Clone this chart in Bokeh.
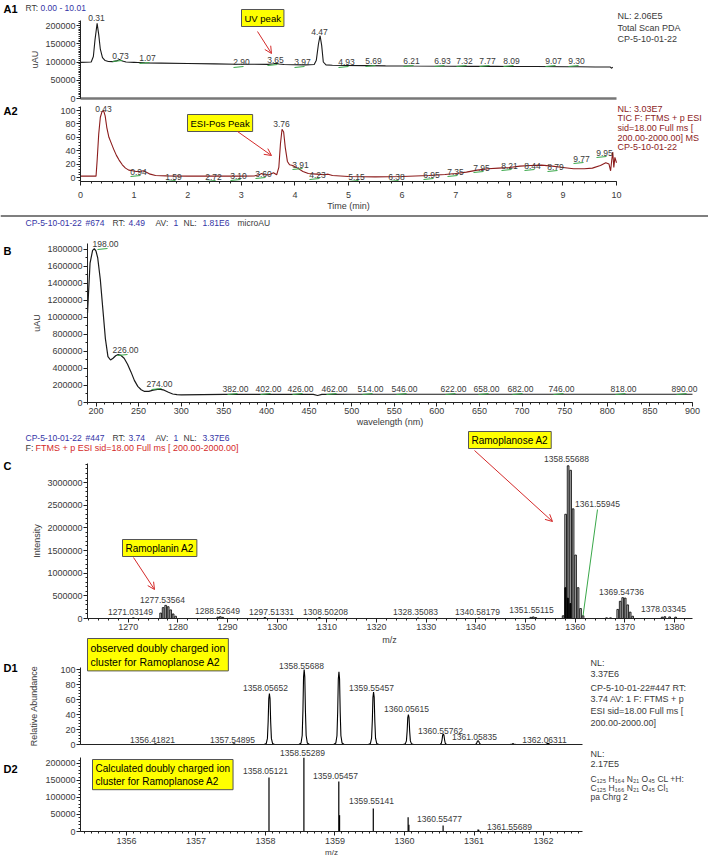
from bokeh.plotting import figure
from bokeh.layouts import column
from bokeh.models import (Range1d, Label, Arrow, OpenHead, SingleIntervalTicker,
                          FixedTicker, BasicTickFormatter)
from bokeh.embed import file_html
from bokeh.resources import INLINE

FONT = "Liberation Sans"
INK = "#222222"
GREY = "#3a3a3a"
BLUE = "#3434a6"
RED = "#d42a2a"
DARKRED = "#8c1c1c"
GREEN = "#3aa84a"
YELLOW = "#ffff00"

# ---------------------------------------------------------------- data
# A1: UV (PDA) chromatogram
a1_time = [0.00, 0.10, 0.20, 0.24, 0.27, 0.31, 0.34, 0.37, 0.41, 0.46,
           0.52, 0.60, 0.67, 0.73, 0.78, 0.85, 1.00, 1.07, 1.20, 1.50,
           2.00, 2.50, 2.90, 3.20, 3.50, 3.60, 3.65, 3.70, 3.80, 3.97,
           4.20, 4.36, 4.40, 4.44, 4.47, 4.50, 4.53, 4.58, 4.70, 4.93,
           5.30, 5.69, 6.21, 6.93, 7.32, 7.77, 8.09, 8.50, 9.07, 9.30,
           9.60, 9.88, 9.91, 9.93]
a1_uau = [99000, 99500, 100000, 115000, 160000, 206000, 175000, 135000, 112000, 104000,
          101500, 101000, 103000, 107000, 103000, 100000, 99000, 98500, 97500, 97000,
          96000, 95000, 94000, 94000, 93500, 95000, 96500, 94500, 93000, 92500,
          92000, 93000, 105000, 150000, 172000, 145000, 100000, 92000, 91000, 90500,
          90000, 89500, 89000, 88500, 88000, 88000, 87500, 87500, 87000, 87000,
          86500, 86500, 83000, 86000]
a1_labels = ["0.31", "0.73", "1.07", "2.90", "3.65", "3.97", "4.47", "4.93",
             "5.69", "6.21", "6.93", "7.32", "7.77", "8.09", "9.07", "9.30"]

# A2: ESI positive TIC (relative abundance)
a2_time = [0.00, 0.20, 0.29, 0.31, 0.34, 0.37, 0.40, 0.43, 0.46, 0.49,
           0.53, 0.57, 0.62, 0.67, 0.72, 0.78, 0.84, 0.90, 0.97, 1.04,
           1.10, 1.17, 1.23, 1.30, 1.40, 1.60, 2.00, 2.50, 3.00, 3.25,
           3.33, 3.38, 3.43, 3.52, 3.60, 3.66, 3.70, 3.73, 3.76, 3.79,
           3.82, 3.86, 3.90, 3.96, 4.05, 4.15, 4.25, 4.40, 4.55, 4.62,
           4.70, 5.00, 5.50, 6.00, 6.50, 6.80, 7.00, 7.20, 7.40, 7.60,
           7.80, 8.00, 8.20, 8.40, 8.60, 8.80, 9.00, 9.20, 9.40, 9.55,
           9.70, 9.80, 9.86, 9.89, 9.91, 9.93, 9.95, 9.97, 10.00]
a2_rel = [2, 2, 2, 25, 65, 90, 98, 100, 92, 75,
          60, 52, 42, 33, 26, 19, 14, 11, 10, 9,
          9, 10, 8, 5, 3, 2.5, 2, 2, 2, 2.5,
          4, 6, 4, 4, 7, 4, 15, 50, 72, 68,
          45, 24, 19, 18, 14, 9, 6, 5, 4, 5,
          3, 1.5, 1, 1.5, 3, 4.5, 6, 8, 11, 13,
          14, 15, 17, 18, 18.5, 17, 15, 13, 13, 14,
          18, 22, 20, 10, 25, 38, 15, 30, 22]
a2_labels = ["0.43", "0.94", "1.59", "2.72", "3.10", "3.60", "3.76", "3.91", "4.23",
             "5.15", "6.38", "6.95", "7.35", "7.95", "8.21", "8.44", "8.79", "9.77", "9.95"]

# B: UV spectrum at RT 4.49
b_nm = [190, 191, 193, 196, 198, 200, 202, 205, 208, 211,
        214, 217, 220, 223, 226, 229, 233, 237, 241, 245,
        249, 253, 257, 262, 267, 272, 276, 280, 285, 290,
        295, 300, 350, 400, 455, 460, 465, 500, 600, 700,
        800, 900]
b_uau = [1050000, 1250000, 1640000, 1790000, 1810000, 1780000, 1700000, 1450000, 1100000, 750000,
         540000, 500000, 520000, 550000, 565000, 555000, 520000, 450000, 360000, 260000,
         190000, 150000, 130000, 130000, 145000, 155000, 155000, 145000, 120000, 100000,
         92000, 90000, 95000, 96000, 95000, 82000, 96000, 97000, 97000, 97000,
         97000, 97000]
b_labels = ["198.00", "226.00", "274.00", "382.00", "402.00", "426.00", "462.00", "514.00",
            "546.00", "622.00", "658.00", "682.00", "746.00", "818.00", "890.00"]

# C: full MS spectrum at RT 3.74
c_mz = [1271.03, 1276.53, 1277.03, 1277.54, 1278.04, 1278.54, 1279.04, 1279.54,
        1288.03, 1288.53, 1289.03, 1297.51, 1308.50, 1328.35, 1340.58,
        1351.05, 1351.55, 1352.05, 1357.56, 1358.06, 1358.56, 1359.06, 1359.56,
        1360.06, 1360.56, 1361.06, 1361.56, 1366.30, 1367.10, 1368.55, 1369.05,
        1369.55, 1370.05, 1370.55, 1371.05, 1371.55, 1377.50, 1378.03, 1379.00, 1380.20]
c_int = [15000, 120000, 240000, 290000, 260000, 190000, 100000, 50000,
         30000, 40000, 25000, 20000, 20000, 10000, 10000,
         25000, 35000, 20000, 60000, 2300000, 3370000, 3270000, 2420000,
         1400000, 680000, 220000, 60000, 15000, 15000, 200000, 380000,
         460000, 450000, 300000, 140000, 50000, 30000, 40000, 35000, 30000]
c_inner_mz = [1358.00, 1358.50, 1359.00]
c_inner_int = [680000, 450000, 330000]
c_labels = ["1271.03149", "1277.53564", "1288.52649", "1297.51331", "1308.50208",
            "1328.35083", "1340.58179", "1351.55115", "1358.55688", "1361.55945",
            "1369.54736", "1378.03345"]

# D1: observed doubly charged cluster
d1_mz = [1356.418, 1357.549, 1358.057, 1358.557, 1359.057, 1359.555,
         1360.056, 1360.558, 1361.058, 1361.560, 1362.063]
d1_rel = [0.8, 0.8, 68, 100, 97, 70, 40, 14, 5, 1, 1.5]
d1_labels = ["1356.41821", "1357.54895", "1358.05652", "1358.55688", "1359.55457",
             "1360.05615", "1360.55762", "1361.05835", "1362.06311"]

# D2: calculated doubly charged cluster
d2_mz = [1358.051, 1358.553, 1359.055, 1359.551, 1360.052, 1360.555, 1361.057, 1361.557]
d2_int = [159000, 217000, 147000, 68000, 42000, 18000, 6000, 2000]
d2_minor_mz = [1359.066, 1360.063, 1361.068]
d2_minor_int = [48000, 20000, 5000]
d2_labels = ["1358.05121", "1358.55289", "1359.05457", "1359.55141", "1360.55477", "1361.55689"]

# ---------------------------------------------------------------- label placement (page pixels)
a1_label_px = [(96, 17), (120, 55), (147, 57), (241, 61), (275, 59), (302, 61), (319, 31), (346, 61),
               (373, 60), (411, 60), (442, 60), (464, 60), (487, 60), (511, 60), (553, 60), (576, 60)]
a2_label_px = [(103, 108), (138, 171), (173, 176), (213, 176), (238, 175), (263, 173), (281, 123),
               (300, 164), (317, 174), (356, 176), (396, 176), (431, 174), (455, 171), (481, 167),
               (509, 165), (532, 165), (555, 166), (581, 158), (604, 152)]
b_label_px = [(105, 243), (125, 349), (159, 383), (235, 388), (268, 388), (300, 388), (334, 388),
              (370, 388), (404, 388), (453, 388), (486, 388), (520, 388), (561, 388), (623, 388),
              (684, 388)]
c_label_px = [(130, 611), (162, 599), (217, 610), (271, 611), (325, 611), (415, 611), (477, 611),
              (531, 609), (566, 458), (597, 503), (621, 591), (663, 608)]
d1_label_px = [(152, 739), (232, 739), (265, 687), (301, 665), (371, 687), (406, 708), (440, 730),
               (474, 736), (544, 739)]
d2_label_px = [(265, 770), (302, 752), (335, 775), (371, 800), (439, 818), (509, 826)]


# ---------------------------------------------------------------- helpers
def X(g, px):
    return g["x0"] + (px - g["fl"]) * (g["x1"] - g["x0"]) / (g["fr"] - g["fl"])


def Y(g, py):
    return g["y0"] + (g["fb"] - py) * (g["y1"] - g["y0"]) / (g["fb"] - g["ft"])


def make(top, height, fl, fr, ft, fb, xr, yr, axis_py=None):
    """Figure whose frame fills the canvas; the plot box (fl..fr, ft..fb page px)
    maps to the data ranges xr / yr, axes are pinned to that box."""
    g = dict(fl=fl, fr=fr, ft=ft, fb=fb, x0=xr[0], x1=xr[1], y0=yr[0], y1=yr[1])
    p = figure(width=708, height=height,
               x_range=Range1d(X(g, 0), X(g, 708)),
               y_range=Range1d(Y(g, top + height), Y(g, top)),
               output_backend="svg", toolbar_location=None, title=None,
               min_border_left=0, min_border_right=0, min_border_top=0, min_border_bottom=0)
    p.outline_line_color = None
    p.grid.visible = False
    p.background_fill_color = "white"
    p.border_fill_color = "white"
    base = yr[0] if axis_py is None else Y(g, axis_py)
    p.xaxis[0].fixed_location = base
    p.xaxis[0].bounds = xr
    p.yaxis[0].fixed_location = xr[0]
    p.yaxis[0].bounds = (base, yr[1])
    return p, g


def text(p, g, px, py, s, size=9, color=GREY, align="left", bold=False, baseline="middle"):
    p.add_layout(Label(x=X(g, px), y=Y(g, py), text=s, text_font=FONT,
                       text_font_size=f"{size}px", text_color=color, text_align=align,
                       text_baseline=baseline,
                       text_font_style="bold" if bold else "normal"))


def box(p, g, px, py, s, size=10):
    p.add_layout(Label(x=X(g, px), y=Y(g, py), text=s, text_font=FONT,
                       text_font_size=f"{size}px", text_color="black", text_align="left",
                       text_baseline="top", background_fill_color=YELLOW,
                       border_line_color="#555555", border_line_width=1, padding=3))


def arrow(p, g, x0, y0, x1, y1):
    p.add_layout(Arrow(x_start=X(g, x0), y_start=Y(g, y0), x_end=X(g, x1), y_end=Y(g, y1),
                       line_color=RED, line_width=1,
                       end=OpenHead(size=7, line_color=RED, line_width=1)))


def green_marks(p, g, positions, dy=6, skip=()):
    x0s, y0s, x1s, y1s = [], [], [], []
    for i, (cx, cy) in enumerate(positions):
        if i in skip:
            continue
        x0s.append(X(g, cx - 8)); y0s.append(Y(g, cy + dy))
        x1s.append(X(g, cx + 2)); y1s.append(Y(g, cy + dy - 1))
    p.segment(x0s, y0s, x1s, y1s, line_color=GREEN, line_width=1)


def style_axis(ax, interval, minor, size=9, standoff=1):
    ax.ticker = SingleIntervalTicker(interval=interval, num_minor_ticks=minor)
    ax.formatter = BasicTickFormatter(use_scientific=False)
    ax.axis_line_color = INK
    ax.major_tick_line_color = INK
    ax.minor_tick_line_color = INK
    ax.major_tick_in = 0
    ax.major_tick_out = 4
    ax.minor_tick_in = 0
    ax.minor_tick_out = 2
    ax.major_label_text_font = FONT
    ax.major_label_text_font_size = f"{size}px"
    ax.major_label_text_color = GREY
    ax.major_label_standoff = standoff
    ax.axis_label_text_font = FONT
    ax.axis_label_text_font_size = "9px"
    ax.axis_label_text_font_style = "normal"
    ax.axis_label_text_color = GREY
    ax.axis_label_standoff = 2


def bare_axis(ax, color=INK, width=1):
    ax.ticker = FixedTicker(ticks=[])
    ax.axis_line_color = color
    ax.axis_line_width = width
    ax.major_tick_out = 0
    ax.major_tick_in = 0
    ax.minor_tick_out = 0
    ax.minor_tick_in = 0
    ax.major_label_text_font_size = "0px"
    ax.major_label_standoff = 0


def header(p, g, py, parts, size=8.5):
    for s, px, col in parts:
        text(p, g, px, py, s, size=size, color=col)


# ---------------------------------------------------------------- A1
pA1, gA1 = make(0, 103, 80, 616, 20, 98, (0, 10), (0, 213700))
pA1.line(a1_time, a1_uau, line_color="#1a1a1a", line_width=1.1)
style_axis(pA1.yaxis[0], 50000, 10)
pA1.yaxis[0].axis_label = "uAU"
bare_axis(pA1.xaxis[0], color="#777777", width=2.5)
green_marks(pA1, gA1, a1_label_px, skip=(0, 6))
for s, (px, py) in zip(a1_labels, a1_label_px):
    text(pA1, gA1, px, py, s, size=8.5, align="center")
text(pA1, gA1, 3, 8, "A1", size=11, color="black", bold=True)
header(pA1, gA1, 7, [("RT:", 25, GREY), ("0.00 - 10.01", 40, BLUE)])
text(pA1, gA1, 617, 15, "NL: 2.06E5", size=9)
text(pA1, gA1, 617, 27, "Total Scan  PDA", size=9)
text(pA1, gA1, 617, 38, "CP-5-10-01-22", size=9)
box(pA1, gA1, 241, 9, "UV peak", size=9.5)
arrow(pA1, gA1, 257, 31, 271, 53)

# ---------------------------------------------------------------- A2
pA2, gA2 = make(103, 111, 80, 616, 106, 177, (0, 10), (0, 106), axis_py=181)
pA2.line(a2_time, a2_rel, line_color=DARKRED, line_width=1.1)
style_axis(pA2.yaxis[0], 20, 5)
style_axis(pA2.xaxis[0], 1, 5, standoff=6)
pA2.xaxis[0].axis_label = "Time (min)"
pA2.xaxis[0].axis_label_standoff = 0
green_marks(pA2, gA2, a2_label_px, dy=5, skip=(0, 6))
for s, (px, py) in zip(a2_labels, a2_label_px):
    text(pA2, gA2, px, py, s, size=8.5, align="center")
text(pA2, gA2, 3, 110, "A2", size=11, color="black", bold=True)
for i, line in enumerate(["NL: 3.03E7", "TIC F: FTMS + p ESI", "sid=18.00  Full ms [",
                          "200.00-2000.00]  MS", "CP-5-10-01-22"]):
    text(pA2, gA2, 617, 108 + 9.7 * i, line, size=9, color=DARKRED)
box(pA2, gA2, 187, 114, "ESI-Pos Peak", size=9.5)
arrow(pA2, gA2, 237, 131, 271, 155)

# ---------------------------------------------------------------- B
pB, gB = make(214, 214, 87, 692, 243, 402, (190, 900), (0, 1870000))
pB.segment([X(gB, 0)], [Y(gB, 215.5)], [X(gB, 708)], [Y(gB, 215.5)], line_color="#555555", line_width=1.5)
pB.line(b_nm, b_uau, line_color="#1a1a1a", line_width=1.2)
style_axis(pB.yaxis[0], 200000, 2)
pB.yaxis[0].axis_label = "uAU"
style_axis(pB.xaxis[0], 50, 5, standoff=1)
pB.xaxis[0].axis_label = "wavelength (nm)"
pB.xaxis[0].axis_label_standoff = 0
green_marks(pB, gB, b_label_px, dy=6)
for s, (px, py) in zip(b_labels, b_label_px):
    text(pB, gB, px, py, s, size=8.5, align="center")
text(pB, gB, 3, 250, "B", size=11, color="black", bold=True)
header(pB, gB, 222, [("CP-5-10-01-22", 25, BLUE), ("#674", 85, BLUE), ("RT:", 112, GREY),
                     ("4.49", 128, BLUE), ("AV:", 155, GREY), ("1", 173, BLUE), ("NL:", 183, GREY),
                     ("1.81E6", 202, BLUE), ("microAU", 237, GREY)])

# ---------------------------------------------------------------- C
pC, gC = make(428, 206, 87, 692, 463, 618, (1261.8, 1383.6), (0, 3420000))
pC.vbar(x=c_mz, top=c_int, width=0.35, fill_color="#b8b8b8", line_color="black", line_width=0.8)
pC.vbar(x=c_inner_mz, top=c_inner_int, width=0.2, fill_color="black", line_color="black")
style_axis(pC.yaxis[0], 500000, 5)
pC.yaxis[0].axis_label = "Intensity"
style_axis(pC.xaxis[0], 10, 5, standoff=1)
pC.segment([1361.56], [60000], [X(gC, 597)], [Y(gC, 509)], line_color=GREEN, line_width=1)
for s, (px, py) in zip(c_labels, c_label_px):
    text(pC, gC, px, py, s, size=8.5, align="center")
text(pC, gC, 3, 465, "C", size=11, color="black", bold=True)
header(pC, gC, 437, [("CP-5-10-01-22", 25, BLUE), ("#447", 85, BLUE), ("RT:", 112, GREY),
                     ("3.74", 128, BLUE), ("AV:", 155, GREY), ("1", 173, BLUE), ("NL:", 183, GREY),
                     ("3.37E6", 202, BLUE)])
text(pC, gC, 25, 447, "F:", size=9, color=GREY)
text(pC, gC, 35, 447, "FTMS + p ESI sid=18.00  Full ms [ 200.00-2000.00]", size=9, color=RED)
box(pC, gC, 468, 431, "Ramoplanose A2", size=10)
arrow(pC, gC, 474, 450, 552, 521)
box(pC, gC, 122, 539, "Ramoplanin A2", size=10)
arrow(pC, gC, 133, 557, 154, 589)

# ---------------------------------------------------------------- D1
pD1, gD1 = make(634, 114, 80, 582, 667, 744, (1355.34, 1362.56), (0, 102.7))
shape_dx = [-1.0, -0.6, -0.38, -0.24, -0.12, 0.0, 0.12, 0.24, 0.38, 0.6, 1.0]
shape_dy = [0.0, 0.02, 0.12, 0.45, 0.9, 1.0, 0.9, 0.45, 0.12, 0.02, 0.0]
HW = 0.075
xs = [[c + a * HW for a in shape_dx] for c in d1_mz]
ys = [[h * b for b in shape_dy] for h in d1_rel]
pD1.multi_line(xs, ys, line_color="black", line_width=1.1)
style_axis(pD1.yaxis[0], 20, 5)
pD1.yaxis[0].axis_label = "Relative Abundance"
pD1.yaxis[0].axis_label_standoff = 18
bare_axis(pD1.xaxis[0])
for s, (px, py) in zip(d1_labels, d1_label_px):
    text(pD1, gD1, px, py, s, size=8.5, align="center")
text(pD1, gD1, 3, 667, "D1", size=11, color="black", bold=True)
text(pD1, gD1, 389, 639, "m/z", size=9, align="center")
for s, py in [("NL:", 662), ("3.37E6", 673), ("CP-5-10-01-22#447  RT:", 687),
              ("3.74  AV: 1 F: FTMS + p", 698), ("ESI sid=18.00  Full ms [", 710),
              ("200.00-2000.00]", 722)]:
    text(pD1, gD1, 590, py, s, size=9)
box(pD1, gD1, 87, 638, "observed doubly charged ion\ncluster for Ramoplanose A2", size=10.5)

# ---------------------------------------------------------------- D2
pD2, gD2 = make(748, 109, 80, 582, 757, 831, (1355.34, 1362.56), (0, 217600))
pD2.segment(x0=d2_mz, y0=[0] * len(d2_mz), x1=d2_mz, y1=d2_int, line_color="black", line_width=1.2)
pD2.segment(x0=d2_minor_mz, y0=[0] * len(d2_minor_mz), x1=d2_minor_mz, y1=d2_minor_int,
            line_color="black", line_width=1.2)
style_axis(pD2.yaxis[0], 50000, 5)
style_axis(pD2.xaxis[0], 1, 10, standoff=2)
for s, (px, py) in zip(d2_labels, d2_label_px):
    text(pD2, gD2, px, py, s, size=8.5, align="center")
text(pD2, gD2, 3, 768, "D2", size=11, color="black", bold=True)
text(pD2, gD2, 331, 852, "m/z", size=8, align="center")
text(pD2, gD2, 590, 753, "NL:", size=9)
text(pD2, gD2, 590, 763, "2.17E5", size=9)
text(pD2, gD2, 590, 778, "C\u2081\u2082\u2085 H\u2081\u2086\u2084 N\u2082\u2081 O\u2084\u2085 CL +H:", size=8.5)
text(pD2, gD2, 590, 787, "C\u2081\u2082\u2085 H\u2081\u2086\u2086 N\u2082\u2081 O\u2084\u2085 Cl\u2081", size=8.5)
text(pD2, gD2, 590, 796, "pa Chrg 2", size=8.5)
box(pD2, gD2, 92, 759, "Calculated doubly charged ion\ncluster for Ramoplanose A2", size=10)

layout = column(pA1, pA2, pB, pC, pD1, pD2, spacing=0)
open("out.html", "w").write(file_html(layout, INLINE))
